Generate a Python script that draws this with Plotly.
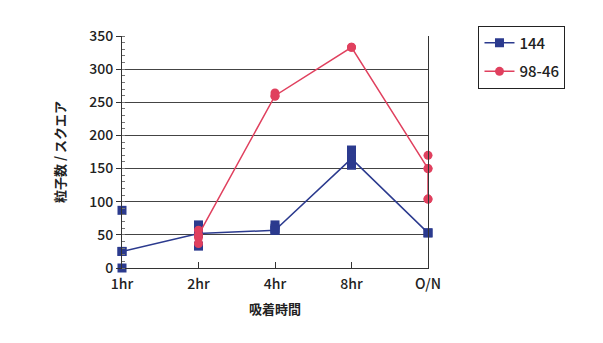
import plotly.graph_objects as go

categories = ["1hr", "2hr", "4hr", "8hr", "O/N"]

# series 144 (blue): line through representative values, plus replicate points
s144_line_x = ["1hr", "2hr", "4hr", "8hr", "O/N"]
s144_line_y = [25, 52, 57, 165, 53]
s144_pts_x = ["1hr", "1hr", "1hr", "2hr", "2hr", "2hr", "4hr", "4hr", "4hr", "8hr", "8hr", "8hr", "O/N"]
s144_pts_y = [87, 25, 0, 65, 52, 33, 65, 60, 57, 178, 165, 155, 53]

# series 98-46 (red)
s9846_line_x = ["2hr", "4hr", "8hr", "O/N", "O/N"]
s9846_line_y = [50, 260, 333, 150, 104]
s9846_pts_x = ["2hr", "2hr", "2hr", "4hr", "4hr", "8hr", "O/N", "O/N", "O/N"]
s9846_pts_y = [57, 46, 37, 264, 259, 333, 170, 150, 104]

y_ticks = [0, 50, 100, 150, 200, 250, 300, 350]

BLUE = "#2b3a8e"
RED = "#e0405e"
FONT = "Noto Sans CJK JP"

fig = go.Figure()
fig.add_trace(go.Scatter(x=s144_line_x, y=s144_line_y, mode="lines+markers", name="144",
                         line=dict(color=BLUE, width=1.5),
                         marker=dict(symbol="square", size=9, color=BLUE),
                         cliponaxis=False, legendgroup="a"))
fig.add_trace(go.Scatter(x=s144_pts_x, y=s144_pts_y, mode="markers", showlegend=False,
                         marker=dict(symbol="square", size=9, color=BLUE),
                         cliponaxis=False, legendgroup="a"))
fig.add_trace(go.Scatter(x=s9846_line_x, y=s9846_line_y, mode="lines+markers", name="98-46",
                         line=dict(color=RED, width=1.5),
                         marker=dict(symbol="circle", size=9, color=RED),
                         cliponaxis=False, legendgroup="b"))
fig.add_trace(go.Scatter(x=s9846_pts_x, y=s9846_pts_y, mode="markers", showlegend=False,
                         marker=dict(symbol="circle", size=9, color=RED),
                         cliponaxis=False, legendgroup="b"))

tickfont = dict(family=FONT, size=14, color="#222", weight=500)

fig.update_layout(
    width=603, height=343,
    margin=dict(l=122, r=175, t=36, b=75),
    paper_bgcolor="white", plot_bgcolor="white",
    font=dict(family=FONT, size=14, color="#222"),
    showlegend=True,
    legend=dict(x=1.165, y=1.045, xanchor="left", yanchor="top",
                bordercolor="#222", borderwidth=1, bgcolor="white",
                font=dict(family=FONT, size=15, color="#222", weight=500),
                tracegroupgap=6, itemwidth=30),
    xaxis=dict(type="category", categoryorder="array", categoryarray=categories,
               range=[0, 4], showgrid=False, showline=True, linecolor="#333", linewidth=1,
               ticks="inside", ticklen=6, tickcolor="#333",
               tickfont=tickfont, ticklabelstandoff=3,
               title=dict(text="<b>吸着時間</b>", font=dict(family=FONT, size=13, color="#222"),
                          standoff=13)),
    yaxis=dict(range=[0, 350], tickvals=y_ticks, showgrid=True, gridcolor="#444", gridwidth=1,
               zeroline=False, showline=True, linecolor="#333", linewidth=1, mirror=True,
               ticks="outside", ticklen=5, tickcolor="#333",
               minor=dict(ticks="inside", dtick=10, ticklen=3, tickcolor="#777", showgrid=False),
               tickfont=tickfont,
               title=dict(text="<b>粒子数 / スクエア</b>", font=dict(family=FONT, size=13, color="#222"),
                          standoff=20)),
)

fig.write_html("out.html")
